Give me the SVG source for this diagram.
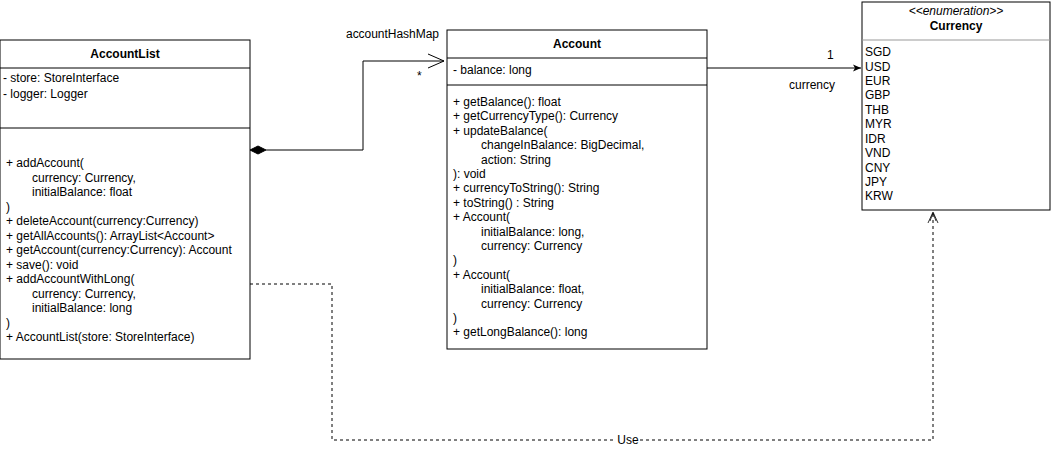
<svg xmlns="http://www.w3.org/2000/svg" width="1053" height="456" viewBox="0 0 1053 456">
<style>
text{font-family:"Liberation Sans",Arial,sans-serif;font-size:12px;fill:#000}
.t{font-weight:bold;font-size:12px;text-anchor:middle}
.box{fill:#fff;stroke:#000;stroke-width:1}
.ln{stroke:#000;stroke-width:1;fill:none}
.dash{stroke:#000;stroke-width:1;fill:none;stroke-dasharray:3 3}
</style>
<defs>
<marker id="filled" markerWidth="10" markerHeight="10" refX="9" refY="5" orient="auto" markerUnits="userSpaceOnUse">
<path d="M1,1.5 L9,5 L1,8.5 L3,5 Z" fill="#000"/>
</marker>
<marker id="open" markerWidth="20" markerHeight="20" refX="18" refY="10" orient="auto" markerUnits="userSpaceOnUse">
<path d="M2,3 L18,10 L2,17" fill="none" stroke="#000"/>
</marker>
<marker id="openSmall" markerWidth="14" markerHeight="14" refX="12" refY="7" orient="auto" markerUnits="userSpaceOnUse">
<path d="M1,2 L12,7 L1,12 M3,4 L11,7 L3,10" fill="none" stroke="#000" stroke-width="0.8"/>
</marker>
</defs>

<g id="connectors">
<path class="ln" d="M266,150 H363 V61 H444" marker-end="url(#open)"/>
<path d="M250,150 L258,146 L266,150 L258,154 Z" fill="#000" stroke="#000"/>
<text x="346" y="38" textLength="93" lengthAdjust="spacing">accountHashMap</text>
<text x="417" y="80">*</text>
<path class="ln" d="M707,68 H861" marker-end="url(#filled)"/>
<text x="827" y="59">1</text>
<text x="789" y="89">currency</text>
<path class="dash" d="M250,284 H332 V440 H933 V212" marker-end="url(#openSmall)"/>
<rect x="616" y="434" width="24" height="12" fill="#fff"/>
<text x="628" y="444" text-anchor="middle">Use</text>
</g>

<g id="AccountList">
<rect class="box" x="0" y="40" width="250" height="319"/>
<line class="ln" x1="0" y1="68" x2="250" y2="68"/>
<line class="ln" x1="0" y1="128" x2="250" y2="128"/>
<text class="t" x="125" y="58">AccountList</text>
<text x="3" y="82">- store: StoreInterface</text>
<text x="3" y="98">- logger: Logger</text>
<text x="6" y="167">+ addAccount(</text>
<text x="32" y="182">currency: Currency,</text>
<text x="32" y="196">initialBalance: float</text>
<text x="6" y="211">)</text>
<text x="6" y="225">+ deleteAccount(currency:Currency)</text>
<text x="6" y="240">+ getAllAccounts(): ArrayList&lt;Account&gt;</text>
<text x="6" y="254">+ getAccount(currency:Currency): Account</text>
<text x="6" y="269">+ save(): void</text>
<text x="6" y="283">+ addAccountWithLong(</text>
<text x="32" y="298">currency: Currency,</text>
<text x="32" y="312">initialBalance: long</text>
<text x="6" y="327">)</text>
<text x="6" y="341">+ AccountList(store: StoreInterface)</text>
</g>

<g id="Account">
<rect class="box" x="447" y="30" width="260" height="319"/>
<line class="ln" x1="447" y1="58" x2="707" y2="58"/>
<line class="ln" x1="447" y1="85" x2="707" y2="85"/>
<text class="t" x="577" y="48">Account</text>
<text x="453" y="74">- balance: long</text>
<text x="453" y="106">+ getBalance(): float</text>
<text x="453" y="120">+ getCurrencyType(): Currency</text>
<text x="453" y="135">+ updateBalance(</text>
<text x="481" y="149">changeInBalance: BigDecimal,</text>
<text x="481" y="164">action: String</text>
<text x="453" y="178">): void</text>
<text x="453" y="192">+ currencyToString(): String</text>
<text x="453" y="207">+ toString() : String</text>
<text x="453" y="221">+ Account(</text>
<text x="481" y="236">initialBalance: long,</text>
<text x="481" y="250">currency: Currency</text>
<text x="453" y="264">)</text>
<text x="453" y="279">+ Account(</text>
<text x="481" y="293">initialBalance: float,</text>
<text x="481" y="308">currency: Currency</text>
<text x="453" y="322">)</text>
<text x="453" y="336">+ getLongBalance(): long</text>
</g>

<g id="Currency">
<rect class="box" x="862" y="2" width="188" height="208"/>
<line x1="862" y1="40" x2="1050" y2="40" stroke="#999" stroke-width="1"/>
<text x="956" y="15" text-anchor="middle" font-style="italic">&lt;&lt;enumeration&gt;&gt;</text>
<text class="t" x="956" y="30">Currency</text>
<text x="865" y="56">SGD</text>
<text x="865" y="71">USD</text>
<text x="865" y="85">EUR</text>
<text x="865" y="99">GBP</text>
<text x="865" y="114">THB</text>
<text x="865" y="128">MYR</text>
<text x="865" y="143">IDR</text>
<text x="865" y="157">VND</text>
<text x="865" y="172">CNY</text>
<text x="865" y="186">JPY</text>
<text x="865" y="200">KRW</text>
</g>
</svg>
